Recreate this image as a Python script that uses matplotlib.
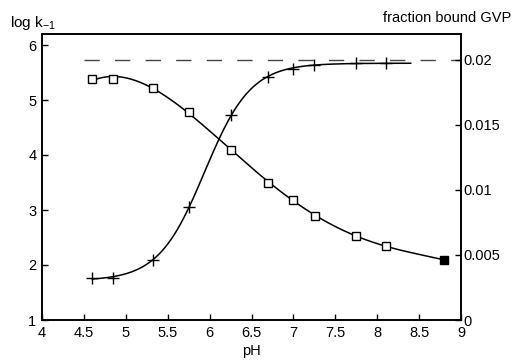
import numpy as np
import matplotlib
matplotlib.use("Agg")
import matplotlib.pyplot as plt

plt.rcParams['font.family'] = ['Liberation Sans Narrow', 'Liberation Sans', 'DejaVu Sans']
plt.rcParams['mathtext.fontset'] = 'custom'
plt.rcParams['mathtext.rm'] = 'Liberation Sans'
plt.rcParams['mathtext.it'] = 'Liberation Sans'

# log k-1 (left axis), open squares; last point filled
ph_k = [4.60, 4.85, 5.33, 5.75, 6.25, 6.70, 7.00, 7.26, 7.75, 8.10]
logk = [5.38, 5.38, 5.21, 4.79, 4.10, 3.49, 3.18, 2.89, 2.53, 2.35]
ph_k_filled = [8.80]
logk_filled = [2.09]

# fraction bound GVP (right axis), crosses
ph_f = [4.60, 4.85, 5.33, 5.75, 6.26, 6.70, 7.00, 7.25, 7.75, 8.10]
frac = [0.00325, 0.00325, 0.00458, 0.00872, 0.01577, 0.01873, 0.01927, 0.01962, 0.01979, 0.01979]
frac_max = 0.02

x_ticks = [4, 4.5, 5, 5.5, 6, 6.5, 7, 7.5, 8, 8.5, 9]
x_ticklabels = ['4', '4.5', '5', '5.5', '6', '6.5', '7', '7.5', '8', '8.5', '9']
yl_ticks = [1, 2, 3, 4, 5, 6]
yr_ticks = [0, 0.005, 0.01, 0.015, 0.02]
yr_ticklabels = ['0', '0.005', '0.01', '0.015', '0.02']

W, H = 515, 361
fig = plt.figure(figsize=(W / 100, H / 100), dpi=100)
ax = fig.add_axes([42 / W, 1 - 320 / H, (461 - 42) / W, (320 - 34) / H])
ax2 = ax.twinx()

# smooth curve through the log k values
px = np.array(ph_k + ph_k_filled)
py = np.array(logk + logk_filled)
coef = np.polyfit(px, py, 4)
xs = np.linspace(px.min(), px.max(), 300)
ax.plot(xs, np.polyval(coef, xs), color='black', lw=1.1, zorder=2)
ax.plot(ph_k, logk, ls='none', marker='s', ms=6, mfc='white', mec='black', mew=1.0, zorder=3)
ax.plot(ph_k_filled, logk_filled, ls='none', marker='s', ms=6, mfc='black', mec='black', zorder=3)

# sigmoid fit through the bound fraction
fx = np.array(ph_f)
fy = np.array(frac)
best = None
for pk in np.linspace(5.5, 6.5, 101):
    for n in np.linspace(0.5, 2.5, 81):
        s = 1 / (1 + 10 ** (n * (pk - fx)))
        A = np.vstack([np.ones_like(s), s]).T
        sol, res, *_ = np.linalg.lstsq(A, fy, rcond=None)
        err = np.sum((A @ sol - fy) ** 2)
        if best is None or err < best[0]:
            best = (err, pk, n, sol)
_, pk, n, (lo, amp) = best
xf = np.linspace(4.6, 8.4, 300)
ax2.plot(xf, lo + amp / (1 + 10 ** (n * (pk - xf))), color='black', lw=1.1, zorder=2)
ax2.plot(ph_f, frac, ls='none', marker='+', ms=9, mec='black', mew=1.0, zorder=3)
ax2.plot([4.5, 9.0], [frac_max, frac_max], color='#444444', lw=1.0, dashes=(11, 11), zorder=1)

ax.set_xlim(4, 9)
ax.set_ylim(1, 6.2)
ax2.set_ylim(0, 0.022)
ax.set_xticks(x_ticks)
ax.set_xticklabels(x_ticklabels)
ax.set_yticks(yl_ticks)
ax2.set_yticks(yr_ticks)
ax2.set_yticklabels(yr_ticklabels)

for a in (ax, ax2):
    a.tick_params(direction='in', length=4, width=1.0, labelsize=10.5, colors='black')
    for sp in a.spines.values():
        sp.set_linewidth(1.2)
ax.tick_params(axis='x', pad=4)
ax.tick_params(axis='y', pad=4)
ax2.tick_params(axis='y', pad=2)

ax.set_xlabel('pH', fontsize=10.5, labelpad=3)
fig.text(10 / W, 1 - 27 / H, r'log k$_{-1}$', fontsize=11, ha='left', va='baseline')
fig.text(511 / W, 1 - 22 / H, 'fraction bound GVP', fontsize=10.5, ha='right', va='baseline')

fig.savefig('out.png', dpi=100)
